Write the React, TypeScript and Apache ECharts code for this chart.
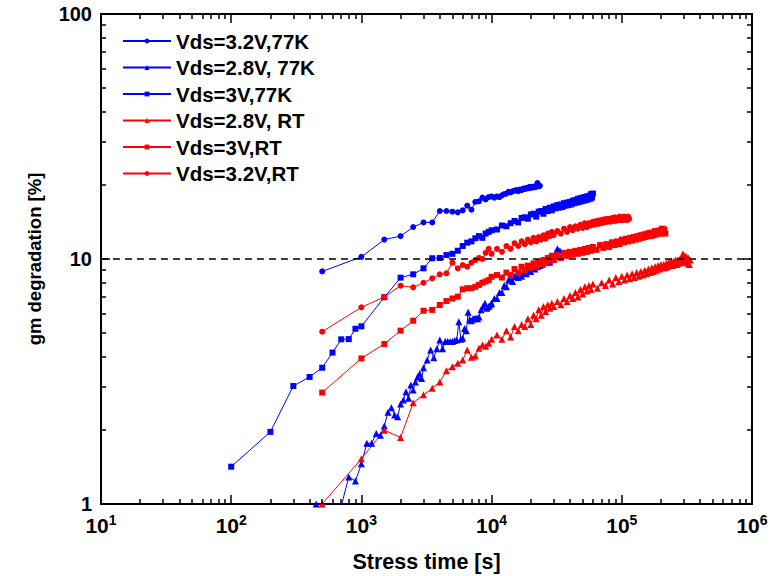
import React, { useEffect, useRef } from 'react';
import * as echarts from 'echarts';

const FONT = "'Liberation Sans', Arial, Helvetica, sans-serif";
const BLUE = '#0000ff';
const RED = '#ff0000';

const seriesNames = ['Vds=3.2V,77K', 'Vds=2.8V, 77K', 'Vds=3V,77K', 'Vds=2.8V, RT', 'Vds=3V,RT', 'Vds=3.2V,RT'];

// Vds=3.2V, 77K (blue circles)
const vds32_77K: [number, number][] = [
  [500, 8.9], [1000, 10.2], [1500, 12.0], [2000, 12.4], [2500, 13.5], [3000, 14.1], [3500, 14.1],
  [4000, 15.7], [4500, 15.7], [5000, 15.6], [5500, 15.5], [6000, 15.8], [6500, 16.5], [7000, 15.9],
  [7500, 17.1], [8000, 17.2], [8500, 17.8], [9000, 17.5], [9500, 17.9], [10000, 18.0], [10500, 17.8],
  [11000, 18.0], [11500, 17.9], [12000, 18.2], [12500, 18.4], [13000, 18.5], [13500, 18.8], [14000, 18.7],
  [14500, 18.9], [15000, 19.0], [15500, 19.1], [16000, 18.9], [16500, 19.2], [17000, 19.1], [17500, 19.4],
  [18000, 19.3], [18500, 19.5], [19000, 19.4], [19500, 19.7], [20000, 19.5], [20500, 19.7], [21000, 19.6],
  [21500, 19.8], [22000, 19.7], [22500, 20.4], [23000, 19.8], [23500, 19.9],
];

// Vds=2.8V, 77K (blue triangles)
const vds28_77K: [number, number][] = [
  [450, 1.0], [600, 0.8], [700, 0.98], [800, 1.29], [900, 1.24], [1000, 1.46], [1100, 1.77], [1200, 1.77],
  [1300, 1.94], [1400, 1.91], [1500, 2.08], [1600, 2.37], [1700, 2.47], [1800, 2.31], [1900, 2.27],
  [2000, 2.56], [2100, 2.66], [2200, 2.87], [2300, 2.7], [2400, 3.06], [2500, 2.92], [2600, 3.15],
  [2700, 3.3], [2800, 3.4], [2900, 3.25], [3000, 3.6], [3200, 3.87], [3400, 4.25], [3600, 3.95],
  [3800, 4.3], [4000, 4.67], [4200, 4.3], [4400, 4.6], [4600, 4.6], [4800, 4.6], [5000, 4.6],
  [5200, 4.65], [5400, 4.67], [5600, 5.55], [5800, 4.7], [6000, 4.75], [6200, 5.2], [6400, 5.1],
  [6600, 6.06], [6800, 5.65], [7000, 5.6], [7200, 5.7], [7400, 5.7], [7600, 5.75], [7800, 5.7],
  [8000, 5.8], [8300, 6.2], [8600, 6.4], [8900, 6.6], [9200, 6.3], [9500, 6.4], [9800, 6.5],
  [10000, 6.6], [10500, 6.9], [11000, 6.9], [11500, 7.3], [12000, 7.3], [12500, 7.8], [13000, 7.7],
  [13500, 8.2], [14000, 8.2], [14500, 8.1], [15000, 8.5], [15500, 8.5], [16000, 8.4], [16500, 8.8],
  [17000, 8.5], [17500, 8.9], [18000, 8.8], [18500, 8.7], [19000, 9.1], [19500, 9.0], [20000, 8.9],
  [20500, 9.3], [21000, 9.2], [21500, 9.1], [22000, 9.6], [22500, 9.3], [23000, 9.7], [23500, 9.4],
  [24000, 9.8], [24500, 9.5], [25000, 9.9], [26000, 9.8], [27000, 10.1], [28000, 9.7], [29000, 10.3],
  [30000, 10.0], [31000, 10.6], [32000, 11.0], [33000, 10.3], [33500, 10.8],
];

// Vds=3V, 77K (blue squares)
const vds30_77K: [number, number][] = [
  [100, 1.42], [200, 1.97], [300, 3.03], [400, 3.3], [500, 3.6], [600, 4.15], [700, 4.7], [800, 4.71],
  [900, 5.19], [1000, 5.31], [1500, 6.98], [2000, 8.39], [2500, 8.66], [3000, 9.16], [3500, 10.07],
  [4000, 10.1], [4500, 10.38], [5000, 10.5], [5500, 10.81], [6000, 11.3], [6500, 11.66], [7000, 11.8],
  [7500, 12.15], [8000, 12.4], [8500, 12.2], [9000, 12.7], [9500, 12.9], [10000, 13.1], [11000, 13.2],
  [12000, 13.7], [13000, 13.6], [14000, 14.0], [15000, 14.3], [16000, 14.1], [17000, 14.7], [18000, 14.8],
  [19000, 14.6], [20000, 15.2], [21000, 15.3], [22000, 14.9], [23000, 15.6], [24000, 15.7], [25000, 15.3],
  [26000, 16.0], [27000, 15.7], [28000, 16.2], [29000, 15.8], [30000, 16.4], [31000, 16.1], [32000, 16.6],
  [33000, 16.2], [34000, 16.7], [35000, 16.3], [36000, 16.9], [37000, 16.5], [38000, 17.0], [39000, 16.6],
  [40000, 17.1], [41000, 16.7], [42000, 17.3], [43000, 16.9], [44000, 17.4], [45000, 17.0], [46000, 17.6],
  [47000, 17.1], [48000, 17.7], [49000, 17.2], [50000, 17.8], [51000, 17.3], [52000, 17.9], [53000, 17.4],
  [54000, 18.0], [55000, 17.5], [56000, 18.1], [57000, 17.6], [58000, 18.4], [59000, 17.8], [60000, 18.5],
];

// Vds=2.8V, RT (red triangles)
const vds28_RT: [number, number][] = [
  [500, 1.0], [1000, 1.53], [1500, 2.0], [2000, 1.87], [2500, 2.59], [3000, 2.79], [3500, 2.97],
  [4000, 3.15], [4500, 3.5], [5000, 3.63], [5500, 3.75], [6000, 3.87], [6500, 4.25], [7000, 3.97],
  [7500, 4.02], [8000, 4.32], [8500, 4.46], [9000, 4.4], [9500, 4.53], [10000, 4.7], [11000, 4.9],
  [12000, 4.7], [13000, 5.1], [14000, 4.8], [15000, 5.3], [16000, 5.1], [17000, 5.4], [18000, 5.3],
  [19000, 5.7], [20000, 5.4], [21000, 5.9], [22000, 5.7], [23000, 6.2], [24000, 5.9], [25000, 6.4],
  [26000, 6.1], [27000, 6.5], [28000, 6.3], [29000, 6.6], [30000, 6.4], [32000, 6.7], [34000, 6.5],
  [36000, 6.9], [38000, 6.7], [40000, 7.1], [42000, 6.9], [44000, 7.3], [46000, 7.0], [48000, 7.5],
  [50000, 7.2], [52000, 7.7], [54000, 7.4], [56000, 7.8], [58000, 7.5], [60000, 7.9], [65000, 7.6],
  [70000, 8.0], [75000, 7.8], [80000, 8.2], [85000, 7.9], [90000, 8.4], [95000, 8.1], [100000, 8.5],
  [105000, 8.2], [110000, 8.6], [115000, 8.3], [120000, 8.7], [125000, 8.4], [130000, 8.8], [135000, 8.5],
  [140000, 8.9], [145000, 8.6], [150000, 9.0], [155000, 8.7], [160000, 9.1], [165000, 8.8], [170000, 9.2],
  [175000, 8.9], [180000, 9.3], [185000, 9.0], [190000, 9.4], [195000, 9.1], [200000, 9.5], [205000, 9.2],
  [210000, 9.5], [215000, 9.2], [220000, 9.6], [225000, 9.3], [230000, 9.7], [235000, 9.4], [240000, 9.8],
  [245000, 9.4], [250000, 9.8], [255000, 9.5], [260000, 9.9], [265000, 9.5], [270000, 9.9], [275000, 9.6],
  [280000, 10.0], [285000, 9.7], [290000, 10.1], [295000, 10.5], [300000, 9.8], [305000, 10.3], [310000, 9.7],
  [315000, 10.2], [320000, 9.6], [325000, 10.1], [330000, 9.5], [335000, 9.9],
];

// Vds=3V, RT (red squares)
const vds30_RT: [number, number][] = [
  [500, 2.85], [1000, 3.93], [1500, 4.5], [2000, 5.1], [2500, 5.6], [3000, 6.15], [3500, 6.2],
  [4000, 6.49], [4500, 6.74], [5000, 6.9], [5500, 7.02], [6000, 7.52], [6500, 7.6], [7000, 7.6],
  [7500, 7.7], [8000, 7.84], [8500, 8.0], [9000, 8.1], [9500, 8.2], [10000, 8.46], [11000, 8.6],
  [12000, 8.4], [13000, 8.8], [14000, 8.6], [15000, 9.1], [16000, 8.8], [17000, 9.3], [18000, 9.0],
  [19000, 9.4], [20000, 9.2], [21000, 9.6], [22000, 9.3], [23000, 9.7], [24000, 9.5], [25000, 9.9],
  [26000, 9.6], [27000, 10.1], [28000, 9.8], [29000, 10.3], [30000, 9.9], [32000, 10.4], [34000, 10.1],
  [36000, 10.6], [38000, 10.3], [40000, 10.7], [42000, 10.4], [44000, 10.8], [46000, 10.5], [48000, 10.9],
  [50000, 10.6], [52000, 11.0], [54000, 10.7], [56000, 11.1], [58000, 10.8], [60000, 11.2], [64000, 10.9],
  [68000, 11.4], [72000, 11.1], [76000, 11.5], [80000, 11.2], [84000, 11.7], [88000, 11.4], [92000, 11.8],
  [96000, 11.5], [100000, 12.0], [104000, 11.7], [108000, 12.1], [112000, 11.8], [116000, 12.2], [120000, 11.9],
  [124000, 12.3], [128000, 12.0], [132000, 12.4], [136000, 12.1], [140000, 12.5], [144000, 12.2], [148000, 12.6],
  [152000, 12.3], [156000, 12.7], [160000, 12.4], [164000, 12.8], [168000, 12.4], [172000, 12.8], [176000, 12.5],
  [180000, 13.0], [184000, 12.6], [188000, 13.0], [192000, 12.7], [196000, 13.1], [200000, 12.7], [204000, 13.3],
  [208000, 12.8], [212000, 13.2], [216000, 12.7],
];

// Vds=3.2V, RT (red circles)
const vds32_RT: [number, number][] = [
  [500, 5.05], [1000, 6.35], [1500, 7.0], [2000, 7.78], [2500, 7.66], [3000, 8.0], [3500, 8.34],
  [4000, 8.66], [4500, 8.74], [5000, 9.66], [5500, 9.16], [6000, 9.45], [6500, 9.3], [7000, 9.66],
  [7500, 9.9], [8000, 10.1], [8500, 10.0], [9000, 10.6], [9500, 11.0], [10000, 10.5], [11000, 11.0],
  [12000, 10.7], [13000, 11.3], [14000, 11.0], [15000, 11.6], [16000, 11.3], [17000, 11.8], [18000, 11.5],
  [19000, 12.0], [20000, 11.7], [21000, 12.2], [22000, 11.8], [23000, 12.3], [24000, 12.0], [25000, 12.5],
  [26000, 12.1], [27000, 12.7], [28000, 12.4], [29000, 12.9], [30000, 12.5], [32000, 13.0], [34000, 12.7],
  [36000, 13.3], [38000, 12.9], [40000, 13.5], [42000, 13.1], [44000, 13.6], [46000, 13.3], [48000, 13.8],
  [50000, 13.4], [52000, 14.0], [54000, 13.5], [56000, 14.0], [58000, 13.7], [60000, 14.2], [62000, 13.8],
  [64000, 14.3], [66000, 13.9], [68000, 14.4], [70000, 14.0], [72000, 14.5], [74000, 14.1], [76000, 14.6],
  [78000, 14.2], [80000, 14.6], [82000, 14.2], [84000, 14.7], [86000, 14.3], [88000, 14.8], [90000, 14.3],
  [92000, 14.7], [94000, 14.4], [96000, 14.9], [98000, 14.4], [100000, 14.8], [102000, 14.4], [104000, 14.9],
  [106000, 14.5], [108000, 14.8], [110000, 14.4], [112000, 14.9], [114000, 14.6],
];

const thresholdY = 10;
const X_MIN = 10, X_MAX = 1000000, Y_MIN = 1, Y_MAX = 100;
const xMajorTicks = [10, 100, 1000, 10000, 100000, 1000000];
const xMinorTicks = [
  20, 30, 40, 50, 60, 70, 80, 90,
  200, 300, 400, 500, 600, 700, 800, 900,
  2000, 3000, 4000, 5000, 6000, 7000, 8000, 9000,
  20000, 30000, 40000, 50000, 60000, 70000, 80000, 90000,
  200000, 300000, 400000, 500000, 600000, 700000, 800000, 900000,
];
const yMajorTicks = [1, 10, 100];
const yMinorTicks = [2, 3, 4, 5, 6, 7, 8, 9, 20, 30, 40, 50, 60, 70, 80, 90];

// layout
const W = 771, H = 576;
const GRID = { left: 101, right: 19, top: 14, bottom: 72 };
const PLOT_W = W - GRID.left - GRID.right;
const PLOT_H = H - GRID.top - GRID.bottom;
const MAJOR_LEN = 9, MINOR_LEN = 5;

function lineSeries(name: string, data: [number, number][], color: string, symbol: string, size: number, extra: any = {}) {
  return {
    name, type: 'line', data, symbol, symbolSize: size, showSymbol: true, color,
    lineStyle: { color, width: 1 }, itemStyle: { color }, clip: true, z: 3,
    emphasis: { disabled: true }, animation: false, ...extra,
  };
}

// tick segments as markLine pairs in data coordinates (positions come from the axes' log scales)
function tickMarkLines() {
  const fx = (len: number) => Math.pow(X_MAX / X_MIN, len / PLOT_W);
  const fy = (len: number) => Math.pow(Y_MAX / Y_MIN, len / PLOT_H);
  const items: any[] = [];
  const addX = (v: number, len: number) => {
    items.push([{ coord: [v, Y_MIN] }, { coord: [v, Y_MIN * fy(len)] }]);
    items.push([{ coord: [v, Y_MAX] }, { coord: [v, Y_MAX / fy(len)] }]);
  };
  const addY = (v: number, len: number) => {
    items.push([{ coord: [X_MIN, v] }, { coord: [X_MIN * fx(len), v] }]);
    items.push([{ coord: [X_MAX, v] }, { coord: [X_MAX / fx(len), v] }]);
  };
  xMajorTicks.forEach((v) => addX(v, MAJOR_LEN));
  xMinorTicks.forEach((v) => addX(v, MINOR_LEN));
  yMajorTicks.forEach((v) => addY(v, MAJOR_LEN));
  yMinorTicks.forEach((v) => addY(v, MINOR_LEN));
  return items;
}

export default function App() {
  const ref = useRef<HTMLDivElement>(null);
  useEffect(() => {
    if (!ref.current) return;
    const chart = echarts.init(ref.current, undefined, { renderer: 'svg' });
    const option: any = {
      animation: false,
      backgroundColor: '#fff',
      grid: { ...GRID, show: true, borderColor: '#000', borderWidth: 2, containLabel: false, outerBoundsMode: 'none' },
      legend: {
        orient: 'vertical', left: 122, top: 30, padding: 0, itemWidth: 48, itemHeight: 6, itemGap: 4.5,
        data: seriesNames,
        textStyle: { fontFamily: FONT, fontWeight: 'bold', fontSize: 20.5, color: '#000', lineHeight: 22 },
        selectedMode: false,
      },
      xAxis: {
        type: 'log', logBase: 10, min: X_MIN, max: X_MAX,
        axisLine: { show: false }, axisTick: { show: false }, splitLine: { show: false },
        axisLabel: {
          margin: 9, color: '#000',
          formatter: (v: number) => `{b|10}{s|${Math.round(Math.log10(v))}}`,
          rich: {
            b: { fontFamily: FONT, fontWeight: 'bold', fontSize: 21, lineHeight: 24, color: '#000' },
            s: { fontFamily: FONT, fontWeight: 'bold', fontSize: 14, lineHeight: 14, verticalAlign: 'top', color: '#000' },
          },
        },
        name: 'Stress time [s]', nameLocation: 'middle', nameGap: 47,
        nameTextStyle: { fontFamily: FONT, fontWeight: 'bold', fontSize: 21.5, color: '#000' },
      },
      yAxis: {
        type: 'log', logBase: 10, min: Y_MIN, max: Y_MAX,
        axisLine: { show: false }, axisTick: { show: false }, splitLine: { show: false },
        axisLabel: { margin: 9, color: '#000', fontFamily: FONT, fontWeight: 'bold', fontSize: 20 },
        name: 'gm degradation [%]', nameLocation: 'middle', nameGap: 57, nameRotate: 90,
        nameTextStyle: { fontFamily: FONT, fontWeight: 'bold', fontSize: 18.5, color: '#000' },
      },
      series: [
        lineSeries(seriesNames[0], vds32_77K, BLUE, 'circle', 6, {
          markLine: {
            silent: true, symbol: ['none', 'none'], label: { show: false },
            lineStyle: { color: '#000', type: [7, 5], width: 1.5 },
            emphasis: { disabled: true },
            data: [{ yAxis: thresholdY }],
          },
        }),
        lineSeries(seriesNames[1], vds28_77K, BLUE, 'triangle', 7),
        lineSeries(seriesNames[2], vds30_77K, BLUE, 'rect', 6),
        lineSeries(seriesNames[3], vds28_RT, RED, 'triangle', 7),
        lineSeries(seriesNames[4], vds30_RT, RED, 'rect', 6),
        lineSeries(seriesNames[5], vds32_RT, RED, 'circle', 6, {
          markLine: {
            silent: true, symbol: ['none', 'none'], label: { show: false },
            lineStyle: { color: '#000', type: 'solid', width: 1.5 },
            emphasis: { disabled: true },
            data: tickMarkLines(),
          },
        }),
      ],
    };
    chart.setOption(option);
    return () => chart.dispose();
  }, []);
  return <div ref={ref} style={{ position: 'absolute', left: 0, top: 0, width: W, height: H }} />;
}
